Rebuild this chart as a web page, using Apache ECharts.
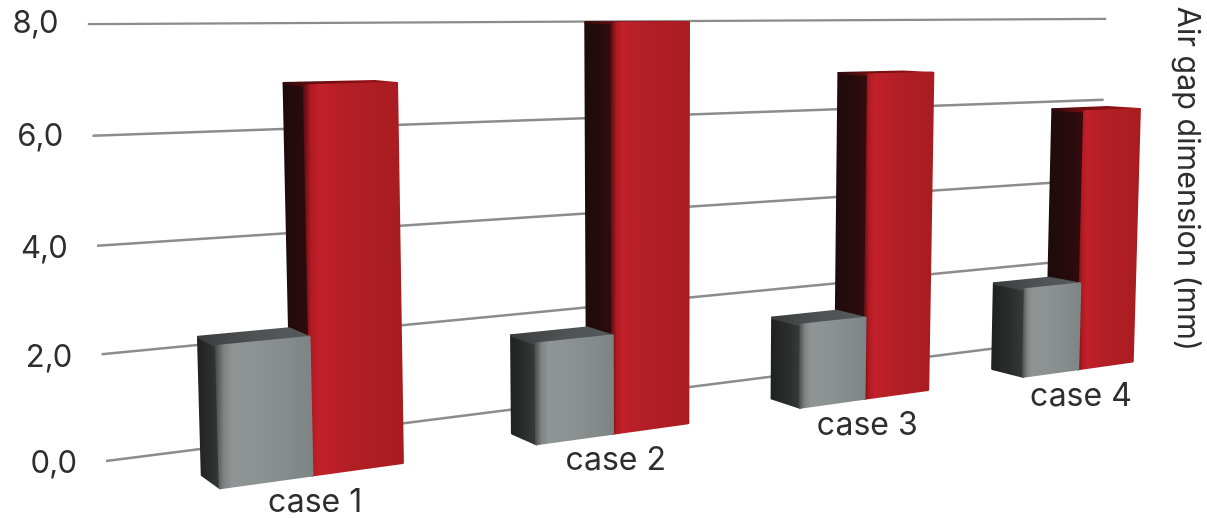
<!DOCTYPE html>
<html>
<head>
<meta charset="utf-8">
<style>html,body{margin:0;padding:0;background:#fff}#chart{width:1207px;height:518px}</style>
<script src="https://cdn.jsdelivr.net/npm/echarts@6/dist/echarts.min.js"></script>
</head>
<body>
<div id="chart"></div>
<script>
// Air gap dimension per case, in millimetres
const cases = ['case 1', 'case 2', 'case 3', 'case 4'];
const airGapGrey = [2.5, 1.95, 1.75, 2.0];
const airGapRed = [6.95, 8.0, 6.9, 5.95];
const tickValues = [0, 2, 4, 6, 8];
const tickLabels = ['0,0', '2,0', '4,0', '6,0', '8,0'];
const axisTitle = 'Air gap dimension (mm)';

const FONT = 'Inter';
const LG = echarts.graphic.LinearGradient;

// Perspective set-up: X runs along the row of cases, Z runs away from the front
// plane of the bars (1 = back of a bar), heights come from the value axis.
const HORIZON_Y = 5;
const CAMERA_HEIGHT = 8.34;
const CAMERA_PITCH = 0.031;
const GREY_WIDTH = 0.272;
const RED_WIDTH = 0.282;
const WALL_Z = 2.84;
const WALL_START = -0.196;
const WALL_END = 3.83;
const BAR_LEAN = 6e-5;
const WALL_LEAN = 7.5e-5;

// Vertical offset and left step of each tick label, so it sits beside its sloped line
const labelDrop = { 0: 6, 2: 11, 4: 12, 6: 6, 8: 0 };

function project(api, X, Z, v, lean) {
  const base = api.coord([X, 0]);
  const top = api.coord([X, v]);
  const origin = api.coord([0, 0]);
  const size = api.size([1, 1]);
  const wx = (base[0] - origin[0]) / size[0];
  const flat = (base[1] - top[1]) / (size[1] * CAMERA_HEIGHT);
  const rise = flat / (1 + CAMERA_PITCH * (1 - flat));
  const w = 1 + 0.1 * wx + 0.0277 * Z;
  const gx = (220 + 370 * wx - 12.4 * Z) / w;
  const gy = HORIZON_Y + 483 / w;
  const lifted = (gy - HORIZON_Y) * rise;
  return [gx + (gx - 660) * lifted * lean, gy - lifted];
}

function face(points, fill) {
  return {
    type: 'polygon',
    shape: { points },
    style: { fill, stroke: fill, lineWidth: 2.5, lineJoin: 'round' }
  };
}

function h(stops) {
  return new LG(0, 0, 1, 0, stops.map((s) => ({ offset: s[0], color: s[1] })));
}

const greyLook = {
  left: () => h([[0, '#1f2120'], [0.6, '#2c2f2e'], [1, '#3a3d3c']]),
  front: () => h([[0, '#454847'], [0.09, '#7f8483'], [0.18, '#8f9594'], [0.5, '#8b9190'], [1, '#7d8584']]),
  top: () => h([[0, '#3a3c3c'], [0.5, '#4f5252'], [1, '#565a5a']])
};
const redLook = {
  left: () => h([[0, '#1d0b0c'], [0.7, '#2a0b0d'], [1, '#3a0b0f']]),
  front: () => h([[0, '#4d0d11'], [0.08, '#b01a22'], [0.16, '#c1202a'], [0.5, '#b21e25'], [1, '#a81c20']]),
  top: () => h([[0, '#2a0a0b'], [0.3, '#6b0d10'], [1, '#a5151a']])
};

function barRenderer(offset, width, look) {
  return function (params, api) {
    const X0 = api.value(0) + offset;
    const X1 = X0 + width;
    const v = api.value(1);
    const p = (X, Z, val) => project(api, X, Z, val, BAR_LEAN);
    return {
      type: 'group',
      children: [
        face([p(X0, 1, 0), p(X0, 0, 0), p(X0, 0, v), p(X0, 1, v)], look.left()),
        face([p(X0, 1, v), p(X1, 1, v), p(X1, 0, v), p(X0, 0, v)], look.top()),
        face([p(X0, 0, 0), p(X1, 0, 0), p(X1, 0, v), p(X0, 0, v)], look.front())
      ]
    };
  };
}

const option = {
  animation: false,
  backgroundColor: '#ffffff',
  grid: { left: 106, top: 24, width: 1000, height: 437 },
  xAxis: { type: 'value', min: -1, max: 5, show: false },
  yAxis: {
    type: 'value',
    min: 0,
    max: 8,
    interval: 2,
    axisLine: { show: false },
    axisTick: { show: false },
    splitLine: { show: false },
    axisLabel: {
      margin: 29,
      formatter: (val) => `{t${val}|${tickLabels[tickValues.indexOf(val)]}}`,
      rich: Object.fromEntries(tickValues.map((t) => [`t${t}`, {
        fontFamily: FONT, fontSize: 31, color: '#2e2e2e',
        padding: [labelDrop[t], t * 2.3, 0, 0]
      }]))
    }
  },
  graphic: [{
    type: 'text',
    x: 1187,
    y: 179,
    rotation: -Math.PI / 2,
    style: {
      text: axisTitle, fontFamily: FONT, fontSize: 30.5, fill: '#2e2e2e',
      align: 'center', verticalAlign: 'middle'
    }
  }],
  series: [
    {
      type: 'custom',
      name: 'gridlines',
      silent: true,
      clip: false,
      data: tickValues.map((t) => [0, t]),
      renderItem(params, api) {
        const v = api.value(1);
        const a = project(api, WALL_START, WALL_Z, v, WALL_LEAN);
        const b = project(api, WALL_END, WALL_Z, v, WALL_LEAN);
        return {
          type: 'line',
          shape: { x1: a[0], y1: a[1], x2: b[0], y2: b[1] },
          style: { stroke: '#8c8c8c', lineWidth: 2.4 }
        };
      }
    },
    {
      type: 'custom',
      name: 'red',
      silent: true,
      clip: false,
      data: airGapRed.map((v, i) => [i, v]),
      renderItem: barRenderer(GREY_WIDTH, RED_WIDTH, redLook)
    },
    {
      type: 'custom',
      name: 'grey',
      silent: true,
      clip: false,
      data: airGapGrey.map((v, i) => [i, v]),
      renderItem: barRenderer(0, GREY_WIDTH, greyLook)
    },
    {
      type: 'custom',
      name: 'case labels',
      silent: true,
      clip: false,
      data: cases.map((c, i) => [i, 0, c]),
      renderItem(params, api) {
        const foot = project(api, api.value(0) + GREY_WIDTH, 0, 0, BAR_LEAN);
        return {
          type: 'text',
          x: foot[0] + 3,
          y: foot[1] + 27,
          style: {
            text: cases[params.dataIndex], fontFamily: FONT, fontSize: 32,
            fill: '#2e2e2e', align: 'center', verticalAlign: 'middle'
          }
        };
      }
    }
  ]
};

echarts.init(document.getElementById('chart'), null, { renderer: 'canvas' }).setOption(option);
</script>
</body>
</html>
